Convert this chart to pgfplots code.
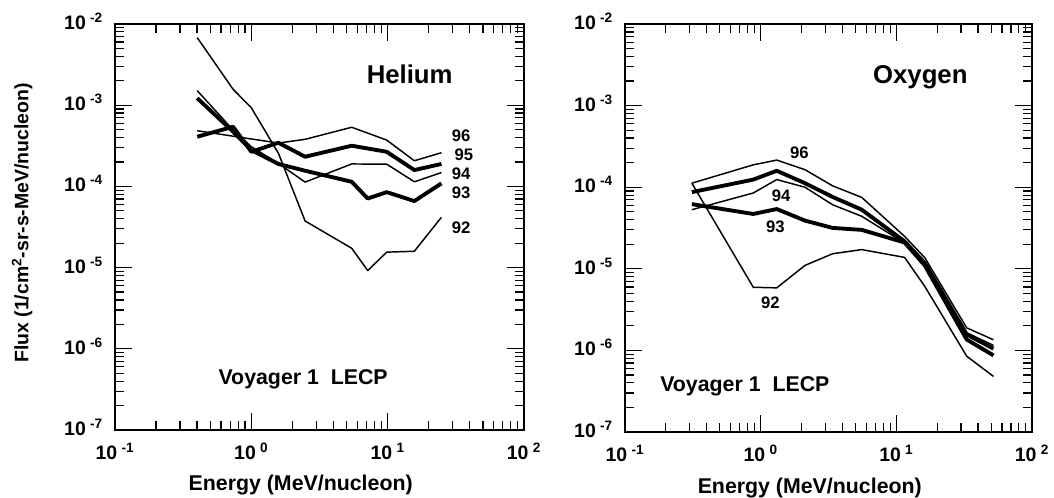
\documentclass[border=0pt]{standalone}
\usepackage{fontspec}
\setmainfont{Liberation Sans}
\usepackage{pgfplots}
\pgfplotsset{compat=1.18}

\newcommand{\tl}[1]{10\hspace{0.22em}\textsuperscript{#1}}
\pgfplotsset{
  panel/.style={
    xmin=0.1, xmax=100, ymin=1e-7, ymax=1e-2,
    scale only axis, anchor=south west,
    axis line style={line width=1.4pt},
    tick style={black, line width=0.9pt},
    major tick length=12.5pt, minor tick length=6.5pt,
    xtick={0.1,1,10,100},
    minor xtick={0.2,0.3,0.4,0.5,0.6,0.7,0.8,0.9,2,3,4,5,6,7,8,9,20,30,40,50,60,70,80,90},
    xticklabels={\tl{-1},\tl{0},\tl{1},\tl{2}},
    ytick={1e-7,1e-6,1e-5,1e-4,1e-3,1e-2},
    minor ytick={2e-7,3e-7,4e-7,5e-7,6e-7,7e-7,8e-7,9e-7,
                 2e-6,3e-6,4e-6,5e-6,6e-6,7e-6,8e-6,9e-6,
                 2e-5,3e-5,4e-5,5e-5,6e-5,7e-5,8e-5,9e-5,
                 2e-4,3e-4,4e-4,5e-4,6e-4,7e-4,8e-4,9e-4,
                 2e-3,3e-3,4e-3,5e-3,6e-3,7e-3,8e-3,9e-3},
    yticklabels={\tl{-7},\tl{-6},\tl{-5},\tl{-4},\tl{-3},\tl{-2}},
    tick label style={font=\fontsize{14.6}{16}\selectfont\bfseries},
    xticklabel style={yshift=-6pt},
    yticklabel style={xshift=-5.5pt, yshift=2pt},
    xlabel={Energy (MeV/nucleon)},
    xlabel style={font=\fontsize{16}{18}\selectfont\bfseries, at={(rel axis cs:0.454,-0.1495)}, anchor=base},
    ylabel style={font=\fontsize{14.6}{17}\selectfont\bfseries},
  },
}
\tikzset{
  thinl/.style={black, line width=1.1pt, line join=round},
  thickl/.style={black, line width=2.9pt, line join=round},
  numlab/.style={font=\fontsize{12.5}{14}\selectfont\bfseries, anchor=base west, inner sep=0pt},
  titlab/.style={font=\fontsize{19.3}{22}\selectfont\bfseries, anchor=base west, inner sep=0pt},
  voylab/.style={font=\fontsize{16}{18}\selectfont\bfseries, anchor=base west, inner sep=0pt},
}

\begin{document}
\begin{tikzpicture}
\useasboundingbox (0,0) rectangle (790.5pt,372.75pt);

% ---------------- Helium ----------------
\begin{axis}[xmode=log, ymode=log, panel, at={(86.25pt,50.25pt)}, width=306.75pt, height=304.5pt,
  ylabel={Flux (1/cm\textsuperscript{2}-sr-s-MeV/nucleon)},
  ylabel style={at={(rel axis cs:-0.227,0.51)}, anchor=center},
]
% 92
\addplot[thinl] coordinates {(0.401,6.8e-3) (0.735,1.57e-3) (1.0,9.3e-4) (1.58,2.56e-4) (2.48,3.75e-5) (5.45,1.73e-5) (7.14,9.2e-6) (9.84,1.55e-5) (15.7,1.59e-5) (24.8,4.17e-5)};
% 93
\addplot[thickl] coordinates {(0.401,1.22e-3) (0.735,4.72e-4) (1.0,2.8e-4) (1.58,1.89e-4) (2.48,1.56e-4) (5.45,1.14e-4) (7.14,7.1e-5) (9.84,8.5e-5) (15.7,6.6e-5) (24.8,1.09e-4)};
% 94
\addplot[thinl] coordinates {(0.401,1.51e-3) (0.735,4.95e-4) (1.0,3.08e-4) (1.58,1.92e-4) (2.48,1.13e-4) (5.45,1.89e-4) (9.84,1.88e-4) (15.7,1.14e-4) (24.8,1.48e-4)};
% 95
\addplot[thickl] coordinates {(0.401,4.09e-4) (0.735,5.43e-4) (1.0,2.67e-4) (1.58,3.45e-4) (2.48,2.32e-4) (5.45,3.17e-4) (9.84,2.67e-4) (15.7,1.59e-4) (24.8,1.89e-4)};
% 96
\addplot[thinl] coordinates {(0.401,4.85e-4) (1.0,3.84e-4) (1.58,3.42e-4) (2.48,3.8e-4) (5.45,5.35e-4) (9.84,3.72e-4) (15.7,2.07e-4) (24.8,2.6e-4)};

\node[titlab] at (rel axis cs:0.615,0.854) {Helium};
\node[numlab] at (rel axis cs:0.823,0.710) {96};
\node[numlab] at (rel axis cs:0.830,0.663) {95};
\node[numlab] at (rel axis cs:0.823,0.618) {94};
\node[numlab] at (rel axis cs:0.823,0.571) {93};
\node[numlab] at (rel axis cs:0.823,0.4845) {92};
\node[voylab] at (rel axis cs:0.2526,0.111) {Voyager 1\ \ LECP};
\end{axis}

% ---------------- Oxygen ----------------
\begin{axis}[xmode=log, ymode=log, panel, at={(468.75pt,48.75pt)}, width=305.25pt, height=306pt]
% 92
\addplot[thinl] coordinates {(0.311,1.12e-4) (0.882,5.94e-6) (1.314,5.84e-6) (2.12,1.1e-5) (3.39,1.53e-5) (5.56,1.72e-5) (11.5,1.38e-5) (16.2,6.1e-6) (33.0,8.5e-7) (52.0,4.8e-7)};
% 93
\addplot[thickl] coordinates {(0.311,6.2e-5) (0.882,4.7e-5) (1.314,5.4e-5) (2.12,3.9e-5) (3.39,3.17e-5) (5.56,3.0e-5) (11.5,2.1e-5) (16.2,1.1e-5) (33.0,1.36e-6) (52.0,8.7e-7)};
% 94
\addplot[thinl] coordinates {(0.311,5.3e-5) (0.882,8.5e-5) (1.314,1.24e-4) (2.12,1.0e-4) (3.39,6.1e-5) (5.56,4.4e-5) (11.5,2.07e-5) (16.2,1.18e-5) (33.0,1.65e-6) (52.0,1.15e-6)};
% 95
\addplot[thickl] coordinates {(0.311,8.7e-5) (0.882,1.24e-4) (1.314,1.59e-4) (2.12,1.12e-4) (3.39,7.6e-5) (5.56,5.3e-5) (11.5,2.17e-5) (16.2,1.18e-5) (33.0,1.57e-6) (52.0,1.05e-6)};
% 96
\addplot[thinl] coordinates {(0.311,1.12e-4) (0.882,1.88e-4) (1.314,2.15e-4) (2.12,1.64e-4) (3.39,1.04e-4) (5.56,7.5e-5) (11.5,2.5e-5) (16.2,1.37e-5) (33.0,1.89e-6) (52.0,1.35e-6)};

\node[titlab] at (rel axis cs:0.609,0.855) {Oxygen};
\node[numlab] at (rel axis cs:0.405,0.671) {96};
\node[numlab] at (rel axis cs:0.360,0.566) {94};
\node[numlab] at (rel axis cs:0.346,0.488) {93};
\node[numlab] at (rel axis cs:0.334,0.303) {92};
\node[voylab] at (rel axis cs:0.086,0.100) {Voyager 1\ \ LECP};
\end{axis}
\end{tikzpicture}
\end{document}
